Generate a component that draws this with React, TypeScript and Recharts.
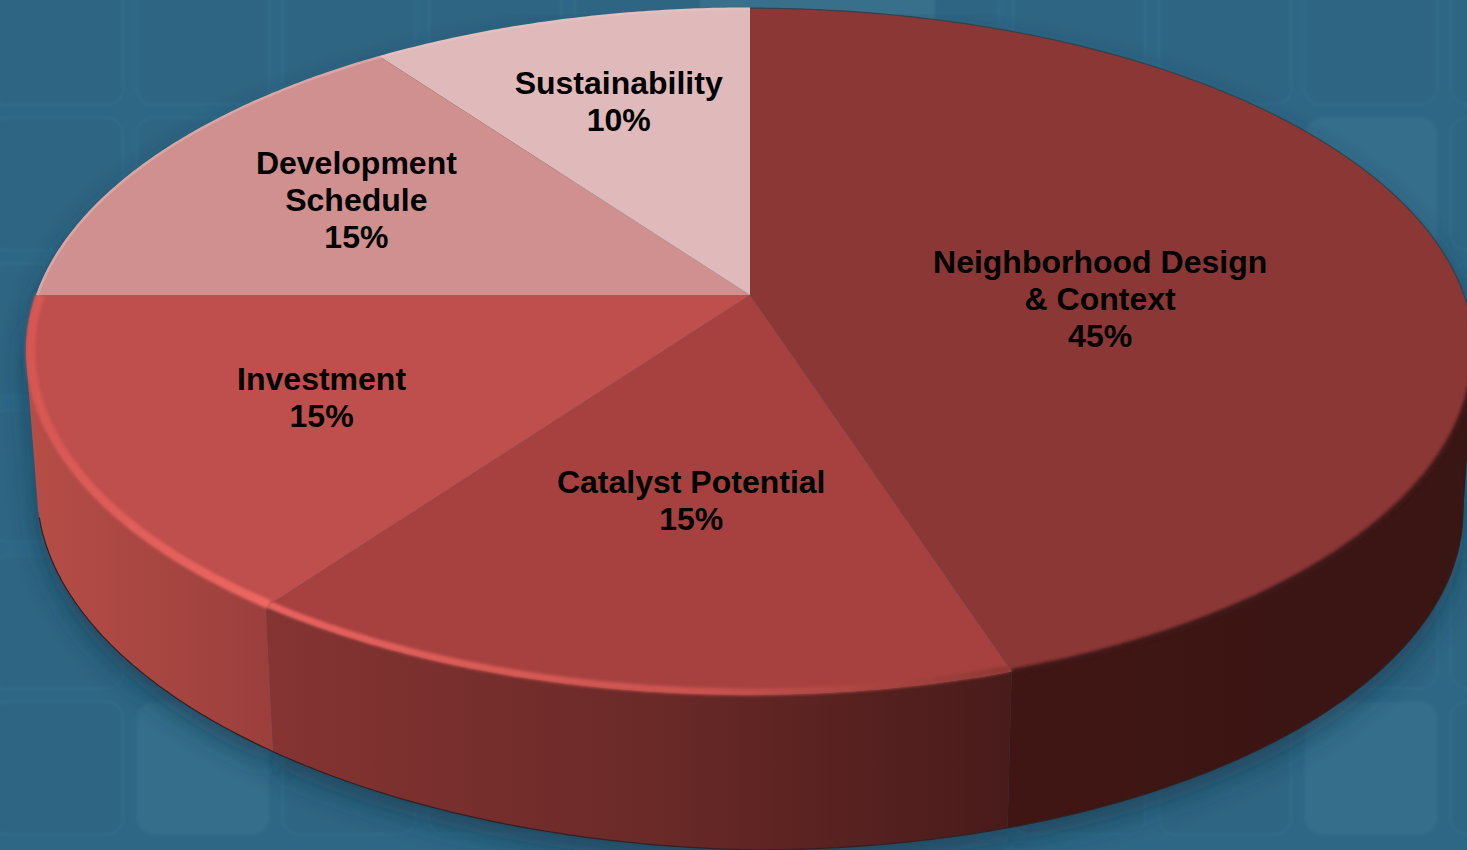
import { PieChart, Pie } from "recharts";

const categories = [
  "Neighborhood Design & Context",
  "Catalyst Potential",
  "Investment",
  "Development Schedule",
  "Sustainability",
];
const weights = [45, 15, 15, 15, 10];

const labelLines = [
  ["Neighborhood Design", "& Context"],
  ["Catalyst Potential"],
  ["Investment"],
  ["Development", "Schedule"],
  ["Sustainability"],
];
// pixel shift of each label from the middle of its slice
const labelShift = [
  [2, 30],
  [2, 26],
  [-98, 24],
  [-87, -22],
  [-29, -46],
];

const faceColors = ["#8b3735", "#a7413f", "#be4f4c", "#d09090", "#e0baba"];
const edgeColors = ["#34424e", "#a7413f", "#d05a56", "#d8a6a6", "#e3c0c0"];
const wallFills = [
  "url(#wall0)",
  "url(#wall1)",
  "url(#wall2)",
  "#b64d47",
  "#391513",
];
const bevelStrokes = [
  "#3f1715",
  "url(#bevel1)",
  "url(#bevel2)",
  "none",
  "none",
];
const bevelWidths = [5, 7, 9, 0, 0];

const pieData = categories.map((name, i) => ({
  name,
  value: weights[i],
  idx: i,
}));

const WIDTH = 1467;
const HEIGHT = 850;
const CX = 750;
const CY = 295;
const RX = 714;
const RY = 334;
const TILT = 0.1645;

const toRad = (d: number) => (d * Math.PI) / 180;

// tilted disc: theta runs clockwise from 12 o'clock, f is the radial fraction
const project = (theta: number, f = 1) => {
  const u = Math.sin(toRad(theta)) * f;
  const v = -Math.cos(toRad(theta)) * f;
  const w = 1 - TILT * v;
  return [CX + (RX * u) / w, CY + (RY * v) / w];
};

// same rim point on the underside of the disc
const lower = (theta: number) => {
  const [x, y] = project(theta);
  const u = Math.sin(toRad(theta));
  const depth = 155 + (u < 0 ? 17 * u : 4 * u);
  return [CX + (x - CX) * 0.985, y + depth];
};

const arcPoints = (from: number, to: number, fn: (t: number) => number[]) => {
  const pts: number[][] = [];
  const steps = Math.max(2, Math.ceil(Math.abs(to - from) * 2));
  for (let i = 0; i <= steps; i++) {
    pts.push(fn(from + ((to - from) * i) / steps));
  }
  return pts;
};

const toPath = (pts: number[][]) =>
  pts.map((p, i) => `${i ? "L" : "M"}${p[0].toFixed(1)} ${p[1].toFixed(1)}`).join(" ");

// wall as small quads, all wound the same way so the fold at the
// silhouette fills in instead of cancelling out
const wallPath = (a: number, b: number) => {
  const top = arcPoints(a, b, project);
  const bottom = arcPoints(a, b, lower);
  const parts: string[] = [];
  for (let i = 0; i < top.length - 1; i++) {
    const quad = [top[i], top[i + 1], bottom[i + 1], bottom[i]];
    let area = 0;
    quad.forEach((p, n) => {
      const q = quad[(n + 1) % 4];
      area += p[0] * q[1] - q[0] * p[1];
    });
    parts.push(toPath(area < 0 ? [...quad].reverse() : quad) + " Z");
  }
  return parts.join(" ");
};

const thetas = (props: any) => [90 - props.startAngle, 90 - props.endAngle];

const ShadowSector = (props: any) => {
  const [a, b] = thetas(props);
  return (
    <path
      d={wallPath(a, b)}
      transform="translate(0 14)"
      fill="#123347"
      fillOpacity={0.6}
      filter="url(#soft)"
    />
  );
};

const WallSector = (props: any) => {
  const [a, b] = thetas(props);
  const i = props.payload?.idx ?? props.idx;
  // only the part of the bottom edge that faces the viewer gets a line
  const lineFrom = Math.max(a, 92);
  const lineTo = Math.min(b, 256);
  return (
    <g>
      <path d={wallPath(a, b)} fill={wallFills[i]} />
      {lineFrom < lineTo && (
        <path
          d={toPath(arcPoints(lineFrom, lineTo, lower))}
          fill="none"
          stroke="#33201f"
          strokeWidth={1.2}
        />
      )}
    </g>
  );
};

const FaceSector = (props: any) => {
  const [a, b] = thetas(props);
  const i = props.payload?.idx ?? props.idx;
  const rim = arcPoints(a, b, project);
  const bevelFrom = Math.max(a, 94);
  const bevelTo = Math.min(b, 270);
  return (
    <g>
      <path d={`M${CX} ${CY} ` + toPath(rim).replace("M", "L") + " Z"} fill={faceColors[i]} />
      {bevelFrom < bevelTo && bevelStrokes[i] !== "none" && (
        <path
          d={toPath(arcPoints(bevelFrom, bevelTo, (t) => project(t, i === 0 ? 1 : 0.994)))}
          fill="none"
          stroke={bevelStrokes[i]}
          strokeWidth={bevelWidths[i]}
          filter="url(#edge)"
        />
      )}
      {a < 94 && (
        <path
          d={toPath(arcPoints(a, Math.min(b, 94), project))}
          fill="none"
          stroke={edgeColors[i]}
          strokeWidth={1.2}
        />
      )}
      {b > 270 && (
        <path
          d={toPath(arcPoints(Math.max(a, 270), b, (t) => project(t, 0.998)))}
          fill="none"
          stroke={edgeColors[i]}
          strokeWidth={2.5}
        />
      )}
    </g>
  );
};

const renderLabel = (props: any) => {
  const i = props.index;
  const [mx, my] = project(90 - props.midAngle, 0.5);
  const lines = [...labelLines[i], `${weights[i]}%`];
  const x = mx + labelShift[i][0];
  const top = my + labelShift[i][1] - ((lines.length - 1) * 37) / 2;
  return (
    <text
      key={categories[i]}
      x={x}
      y={top}
      textAnchor="middle"
      fontFamily='"Liberation Sans", Arial, sans-serif'
      fontWeight={700}
      fontSize={32}
      fill="#000"
      dominantBaseline="central"
    >
      {lines.map((line, n) => (
        <tspan key={n} x={x} y={top + n * 37}>
          {line}
        </tspan>
      ))}
    </text>
  );
};

const tileCols = [-9, 137, 283, 429, 575, 721, 867, 1013, 1159, 1305, 1451];
const tileRows = [-28, 118, 264, 410, 556, 702];
const brightTiles = ["137,702", "1305,118", "1305,702"];

const Backdrop = () => (
  <svg width={WIDTH} height={HEIGHT} style={{ position: "absolute", left: 0, top: 0 }}>
    <defs>
      <filter id="soft" filterUnits="userSpaceOnUse" x="-60" y="0" width={WIDTH + 120} height={HEIGHT + 60}>
        <feGaussianBlur stdDeviation="14" />
      </filter>
      <filter id="edge" filterUnits="userSpaceOnUse" x="0" y="0" width={WIDTH} height={HEIGHT}>
        <feGaussianBlur stdDeviation="1.6" />
      </filter>
      <filter id="tileEdge" filterUnits="userSpaceOnUse" x="0" y="0" width={WIDTH} height={HEIGHT}>
        <feGaussianBlur stdDeviation="0.8" />
      </filter>
      <linearGradient id="wall0" gradientUnits="userSpaceOnUse" x1="1008" y1="0" x2="1467" y2="0">
        <stop offset="0" stopColor="#401614" />
        <stop offset="1" stopColor="#391513" />
      </linearGradient>
      <linearGradient id="wall1" gradientUnits="userSpaceOnUse" x1="272" y1="0" x2="1008" y2="0">
        <stop offset="0" stopColor="#853432" />
        <stop offset="0.5" stopColor="#6b2a28" />
        <stop offset="1" stopColor="#491b1a" />
      </linearGradient>
      <linearGradient id="wall2" gradientUnits="userSpaceOnUse" x1="30" y1="0" x2="272" y2="0">
        <stop offset="0" stopColor="#b64d47" />
        <stop offset="1" stopColor="#9b3f3c" />
      </linearGradient>
      <linearGradient id="bevel1" gradientUnits="userSpaceOnUse" x1="272" y1="0" x2="1008" y2="0">
        <stop offset="0" stopColor="#e9635f" />
        <stop offset="0.6" stopColor="#c9524e" />
        <stop offset="1" stopColor="#8f3835" />
      </linearGradient>
      <linearGradient id="bevel2" gradientUnits="userSpaceOnUse" x1="30" y1="0" x2="272" y2="0">
        <stop offset="0" stopColor="#d65753" />
        <stop offset="1" stopColor="#ee6762" />
      </linearGradient>
    </defs>
    <rect width={WIDTH} height={HEIGHT} fill="#2e6785" />
    <g filter="url(#tileEdge)">
      {tileCols.map((x) =>
        tileRows.map((y) => (
          <rect
            key={`${x},${y}`}
            x={x}
            y={y}
            width={132}
            height={132}
            rx={16}
            fill={brightTiles.includes(`${x},${y}`) ? "#366e8b" : "#2d6582"}
            stroke="#326b88"
            strokeWidth={2.5}
          />
        )),
      )}
      <rect x={700} y={-40} width={235} height={70} rx={10} fill="#376f8c" />
    </g>
  </svg>
);

export default function App() {
  return (
    <div style={{ position: "absolute", left: 0, top: 0, width: WIDTH, height: HEIGHT, overflow: "hidden" }}>
      <Backdrop />
      <div style={{ position: "absolute", left: 0, top: 0 }}>
        <PieChart width={WIDTH} height={HEIGHT} margin={{ top: 0, right: 0, bottom: 0, left: 0 }}>
          <Pie
            data={pieData}
            dataKey="value"
            nameKey="name"
            cx={CX}
            cy={CY}
            outerRadius={RX}
            startAngle={90}
            endAngle={-270}
            stroke="none"
            shape={ShadowSector}
            isAnimationActive={false}
          />
          <Pie
            data={pieData}
            dataKey="value"
            nameKey="name"
            cx={CX}
            cy={CY}
            outerRadius={RX}
            startAngle={90}
            endAngle={-270}
            stroke="none"
            shape={WallSector}
            isAnimationActive={false}
          />
          <Pie
            data={pieData}
            dataKey="value"
            nameKey="name"
            cx={CX}
            cy={CY}
            outerRadius={RX}
            startAngle={90}
            endAngle={-270}
            stroke="none"
            shape={FaceSector}
            label={renderLabel}
            labelLine={false}
            isAnimationActive={false}
          />
        </PieChart>
      </div>
    </div>
  );
}
